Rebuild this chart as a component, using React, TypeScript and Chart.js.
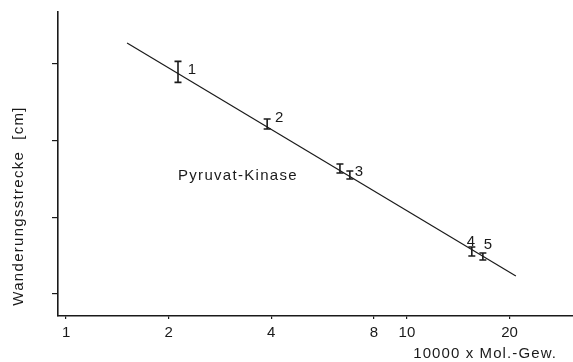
import React, { useEffect, useRef } from "react";
import { Chart, registerables } from "chart.js";

Chart.register(...registerables);

// Data
const molWeight = [2.13, 3.89, 6.36, 6.8, 15.5, 16.7]; // 10000 x Mol.-Gew.
const distance = [3.896, 3.216, 2.636, 2.551, 1.554, 1.489]; // Wanderungsstrecke [cm]
const distanceErr = [0.137, 0.065, 0.059, 0.052, 0.059, 0.046];
const pointLabels = ["1", "2", "", "3", "4", "5"];
const fitX = [1.51, 20.87];
const fitY = [4.274, 1.235];
const xTicks = [1, 2, 4, 8, 10, 20];
const yTicks = [1, 2, 3, 4];

// Label placement offsets (px) relative to the point
const labelDx = [14, 12, 0, 9, -1, 5];
const labelDy = [-2, -6, 0, -3, -10, -12];

const FONT = "'Liberation Sans', Arial, sans-serif";
const INK = "#1a1a1a";

const annotPlugin = {
  id: "annot",
  afterDatasetsDraw(chart: any) {
    const ctx = chart.ctx;
    const xs = chart.scales.x;
    const ys = chart.scales.y;
    ctx.save();
    ctx.strokeStyle = INK;
    ctx.lineWidth = 1.6;
    const cap = 3.5;
    molWeight.forEach((mw, i) => {
      const px = xs.getPixelForValue(mw);
      const pTop = ys.getPixelForValue(distance[i] + distanceErr[i]);
      const pBot = ys.getPixelForValue(distance[i] - distanceErr[i]);
      ctx.beginPath();
      ctx.moveTo(px, pTop);
      ctx.lineTo(px, pBot);
      ctx.moveTo(px - cap, pTop);
      ctx.lineTo(px + cap, pTop);
      ctx.moveTo(px - cap, pBot);
      ctx.lineTo(px + cap, pBot);
      ctx.stroke();
      if (pointLabels[i]) {
        const py = ys.getPixelForValue(distance[i]);
        ctx.fillStyle = INK;
        ctx.font = "15px " + FONT;
        ctx.textAlign = "center";
        ctx.textBaseline = "middle";
        ctx.fillText(pointLabels[i], px + labelDx[i], py + labelDy[i]);
      }
    });
    ctx.restore();
  },
  afterDraw(chart: any) {
    const ctx = chart.ctx;
    ctx.save();
    ctx.fillStyle = INK;
    ctx.textBaseline = "middle";
    // in-plot label
    ctx.font = "15px " + FONT;
    (ctx as any).letterSpacing = "1.3px";
    ctx.textAlign = "left";
    ctx.fillText("Pyruvat-Kinase", 178, 176);
    // x title
    ctx.font = "15px " + FONT;
    (ctx as any).letterSpacing = "1.1px";
    ctx.textAlign = "right";
    ctx.fillText("10000 x Mol.-Gew.", 557, 354);
    // y title
    ctx.translate(19, 206);
    ctx.rotate(-Math.PI / 2);
    (ctx as any).letterSpacing = "1.3px";
    ctx.textAlign = "center";
    ctx.fillText("Wanderungsstrecke  [cm]", 0, 0);
    ctx.restore();
  },
};

export default function App() {
  const ref = useRef<HTMLCanvasElement>(null);
  useEffect(() => {
    document.body.style.margin = "0";
    const chart = new Chart(ref.current!, {
      type: "scatter",
      data: {
        datasets: [
          {
            data: fitX.map((x, i) => ({ x, y: fitY[i] })),
            showLine: true,
            borderColor: INK,
            borderWidth: 1.2,
            pointRadius: 0,
          },
        ],
      },
      options: {
        responsive: false,
        animation: false,
        layout: { padding: { top: 12, left: 0, right: 0, bottom: 0 } },
        plugins: { legend: { display: false }, tooltip: { enabled: false } },
        scales: {
          x: {
            type: "logarithmic",
            min: 0.947,
            max: 30.7,
            afterBuildTicks: (s: any) => {
              s.ticks = xTicks.map((v) => ({ value: v }));
            },
            afterFit: (s: any) => {
              s.height = 46;
            },
            ticks: {
              color: INK,
              font: { family: FONT, size: 15 },
              padding: 5,
              maxRotation: 0,
              autoSkip: false,
              callback: (v: any) => String(v),
            },
            grid: {
              drawOnChartArea: false,
              drawTicks: true,
              tickLength: 3,
              color: INK,
              lineWidth: 1.2,
            },
            border: { display: true, color: INK, width: 1.6 },
          },
          y: {
            type: "linear",
            min: 0.713,
            max: 4.677,
            afterBuildTicks: (s: any) => {
              s.ticks = yTicks.map((v) => ({ value: v }));
            },
            afterFit: (s: any) => {
              s.width = 58;
            },
            ticks: { callback: () => "", padding: 0 },
            grid: {
              drawOnChartArea: false,
              drawTicks: true,
              tickLength: 6,
              color: INK,
              lineWidth: 1.2,
            },
            border: { display: true, color: INK, width: 1.6 },
          },
        },
      },
      plugins: [annotPlugin],
    } as any);
    return () => chart.destroy();
  }, []);
  return (
    <div style={{ width: 573, height: 362, background: "#fff" }}>
      <canvas ref={ref} width={573} height={362} />
    </div>
  );
}
